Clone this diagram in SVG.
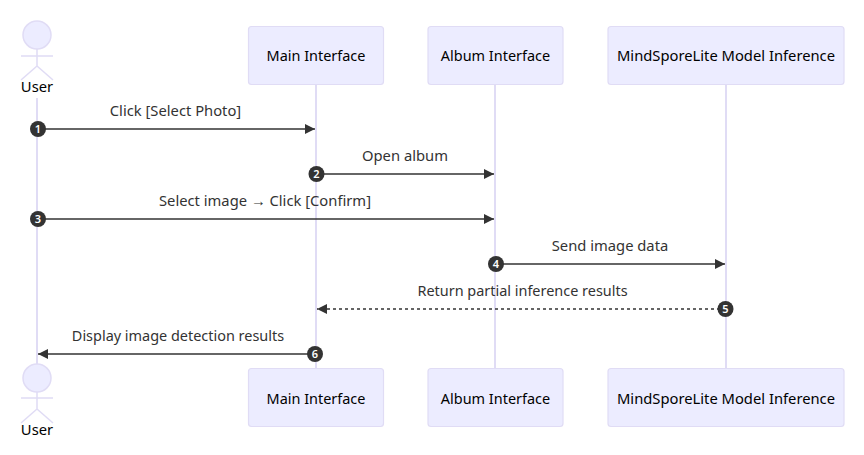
<svg xmlns="http://www.w3.org/2000/svg" width="864" height="455" viewBox="0 0 864 455">
<style>
text{font-family:"Noto Sans","Open Sans","Liberation Sans",sans-serif;font-size:14.75px;text-anchor:middle}
.a{fill:#000}
.m{fill:#333}
.s{font-size:14.45px}
.ar{font-family:"Liberation Sans",sans-serif}
.box{fill:#ececff;stroke:#e0dcf5;stroke-width:1.2}
.life{stroke:#e0dcf5;stroke-width:2;fill:none}
.stick{stroke:#e0dcf5;stroke-width:1.5;fill:none}
.head{fill:#ececff;stroke:#e0dcf5;stroke-width:1.5}
.msg{stroke:#333;stroke-width:1.5;fill:none}
.dash{stroke-dasharray:3 3}
.n{fill:#333}
.nt{fill:#fff;font-size:11px;font-weight:600}
</style>
<defs>
<marker id="arrow" markerUnits="userSpaceOnUse" markerWidth="12" markerHeight="12" refX="10" refY="5" orient="auto"><path d="M0 0L10 5L0 10z" fill="#333"/></marker>
</defs>
<g id="lifelines">
<path class="life" d="M37 98V364"/><path class="life" d="M316 84V369"/><path class="life" d="M495 84V369"/><path class="life" d="M726 84V369"/>
</g>
<g id="actor-user-top"><circle class="head" cx="37" cy="35" r="14"/><path class="stick" d="M37 49V67M21 56H53M37 66L21 80M37 66L53 80"/><text class="a" x="37" y="92">User</text></g>
<g id="main-top"><rect class="box" x="248.500" y="26.500" width="135" height="58" rx="3"/><text class="a s" x="316" y="61">Main Interface</text></g>
<g id="album-top"><rect class="box" x="428" y="26.500" width="135" height="58" rx="3"/><text class="a s" x="495.500" y="61">Album Interface</text></g>
<g id="model-top"><rect class="box" x="608" y="26.500" width="236" height="58" rx="3"/><text class="a" x="726" y="61">MindSporeLite Model Inference</text></g>
<g id="connectors">
<path class="msg" marker-end="url(#arrow)" d="M37 129H315"/>
<path class="msg" marker-end="url(#arrow)" d="M316 174H494"/>
<path class="msg" marker-end="url(#arrow)" d="M37 219H494"/>
<path class="msg" marker-end="url(#arrow)" d="M495 264H725"/>
<path class="msg dash" marker-end="url(#arrow)" d="M726 309H317"/>
<path class="msg" marker-end="url(#arrow)" d="M316 354H38"/>
</g>
<g id="labels">
<text class="m" x="175.500" y="116">Click [Select Photo]</text>
<text class="m" x="405" y="161">Open album</text>
<text class="m" x="265" y="206">Select image <tspan class="ar">→</tspan> Click [Confirm]</text>
<text class="m" x="610" y="251">Send image data</text>
<text class="m s" x="522.500" y="296">Return partial inference results</text>
<text class="m s" x="178" y="341">Display image detection results</text>
</g>
<g id="numbers">
<circle class="n" cx="38" cy="129" r="8"/><text class="nt" x="38" y="133">1</text>
<circle class="n" cx="316.500" cy="174" r="8"/><text class="nt" x="316.500" y="178">2</text>
<circle class="n" cx="38" cy="219" r="8"/><text class="nt" x="38" y="223">3</text>
<circle class="n" cx="496" cy="264" r="8"/><text class="nt" x="496" y="268">4</text>
<circle class="n" cx="725.500" cy="309" r="8"/><text class="nt" x="725.500" y="313">5</text>
<circle class="n" cx="315" cy="354" r="8"/><text class="nt" x="315" y="358">6</text>
</g>
<g id="actor-user-bottom"><circle class="head" cx="37" cy="378" r="14"/><path class="stick" d="M37 392V409M21 398H53M37 409L21 423M37 409L53 423"/><text class="a" x="37" y="435">User</text></g>
<g id="main-bottom"><rect class="box" x="248.500" y="368.500" width="135" height="58" rx="3"/><text class="a s" x="316" y="404">Main Interface</text></g>
<g id="album-bottom"><rect class="box" x="428" y="368.500" width="135" height="58" rx="3"/><text class="a s" x="495.500" y="404">Album Interface</text></g>
<g id="model-bottom"><rect class="box" x="608" y="368.500" width="236" height="58" rx="3"/><text class="a" x="726" y="404">MindSporeLite Model Inference</text></g>
</svg>
